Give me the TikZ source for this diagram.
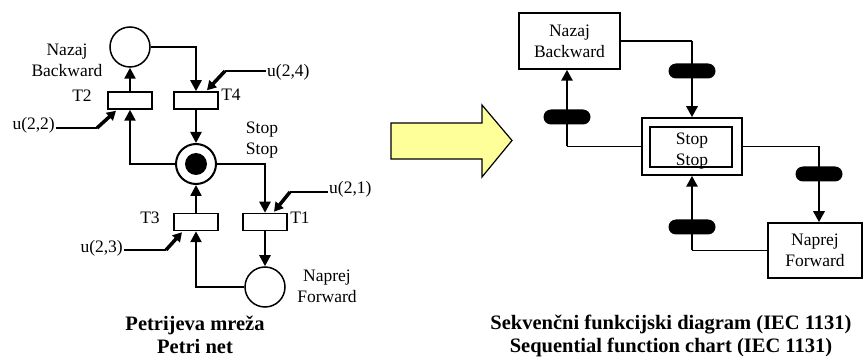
\documentclass[tikz,border=0pt]{standalone}
\usepackage{fontspec}
\setmainfont{Liberation Serif}
\usetikzlibrary{arrows.meta}
\definecolor{arrowyellow}{RGB}{255,255,153}
\begin{document}
\begin{tikzpicture}[x=1pt,y=-1pt,
  lbl/.style={font=\fontsize{17.5}{21}\selectfont, inner sep=1pt, align=center},
  captxt/.style={font=\bfseries\fontsize{20.5}{23.5}\selectfont, align=center, inner sep=0pt},
  place/.style={circle, draw, line width=1.5pt, minimum size=40pt, inner sep=0pt},
  trans/.style={rectangle, draw, line width=1.5pt, minimum width=44pt, minimum height=17pt, inner sep=0pt},
  pconn/.style={line width=2.4pt, -{Triangle[length=11pt,width=11pt]}},
  inthin/.style={line width=1.3pt},
  inarrow/.style={line width=3.5pt, -{Triangle[length=9pt,width=10pt]}},
  stepbox/.style={rectangle, draw, line width=1.5pt, inner sep=0pt, align=center, font=\fontsize{17.5}{21}\selectfont},
  tbar/.style={rectangle, fill=black, rounded corners=7.5pt, minimum width=47pt, minimum height=15pt, inner sep=0pt},
  sthin/.style={line width=1.5pt},
  sarrow/.style={line width=2.8pt, -{Triangle[length=11pt,width=11pt]}},
]
\useasboundingbox (0,0) rectangle (863,358);

% ---------------- Petri net ----------------
\node[place] (pN) at (130,47) {};
\node[place, line width=2pt] (pS) at (196,164) {};
\node[circle, fill=black, minimum size=22pt, inner sep=0pt] (tok) at (pS) {};
\node[place] (pF) at (265,287) {};

\node[trans] (T2) at (130,100.5) {};
\node[trans] (T4) at (196,100.5) {};
\node[trans] (T3) at (196,222) {};
\node[trans] (T1) at (265,222) {};

\node[lbl] (lN) at (67,60.5) {Nazaj\\Backward};
\node[lbl] (lS) at (262,140) {Stop\\Stop};
\node[lbl] (lF) at (327,286.5) {Naprej\\Forward};
\node[lbl] (lT2) at (82,96) {T2};
\node[lbl] (lT4) at (231,95) {T4};
\node[lbl] (lT3) at (150,218) {T3};
\node[lbl] (lT1) at (300,218) {T1};

\draw[pconn] (pN.east) -| (T4.north);
\draw[pconn] (T4.south) -- (pS.north);
\draw[pconn] (pS.west) -| (T2.south);
\draw[pconn] (T2.north) -- (pN.south);
\draw[pconn] (pS.east) -| (T1.north);
\draw[pconn] (T1.south) -- (pF.north);
\draw[pconn] (pF.west) -| (T3.south);
\draw[pconn] (T3.north) -- (pS.south);

% inputs
\node[lbl, anchor=west] (u24) at (266,72) {u(2,4)};
\node[lbl, anchor=east] (u22) at (56,125) {u(2,2)};
\node[lbl, anchor=west] (u21) at (328,189) {u(2,1)};
\node[lbl, anchor=east] (u23) at (124,248) {u(2,3)};

\draw[inthin] ([yshift=1pt]u24.west) -- ++(-41,0) coordinate (k4);
\draw[inarrow] (k4) -- ([xshift=11pt,yshift=1pt]T4.north);
\draw[inthin] ([yshift=-3pt]u22.east) -- ++(41,0) coordinate (k2);
\draw[inarrow] (k2) -- ([xshift=-14pt,yshift=-1pt]T2.south);
\draw[inthin] ([yshift=-3pt]u21.west) -- ++(-38,0) coordinate (k1);
\draw[inarrow] (k1) -- ([xshift=9pt,yshift=1pt]T1.north);
\draw[inthin] ([yshift=-2pt]u23.east) -- ++(42,0) coordinate (k3);
\draw[inarrow] (k3) -- ([xshift=-14pt,yshift=-1pt]T3.south);

\node[captxt] (capL) at (195,335) {Petrijeva mreža\\Petri net};

% ---------------- big arrow ----------------
\filldraw[fill=arrowyellow, draw=black, line width=1.2pt, line join=miter]
  (391,123) -- (482,123) -- (482,105) -- (512,140.5) -- (482,177) -- (482,159) -- (391,159) -- cycle;

% ---------------- SFC ----------------
\node[stepbox, minimum width=101pt, minimum height=56pt] (nS) at (569.5,41) {Nazaj\\Backward};
\node[stepbox, minimum width=100pt, minimum height=57pt] (sS) at (692,146.5) {};
\node[stepbox, minimum width=82pt, minimum height=40pt] (sI) at (691,147) {};
\node[lbl] (sT) at (692,151) {Stop\\Stop};
\node[stepbox, minimum width=94pt, minimum height=55pt] (fS) at (815,250.5) {Naprej\\Forward};

\node[tbar] (b1) at (692,71) {};
\node[tbar] (b2) at (567,117) {};
\node[tbar] (b3) at (819,174) {};
\node[tbar] (b4) at (692,227) {};

\draw[sthin] (nS.east) -- (nS.east -| b1);
\draw[sarrow] (nS.east -| b1) -- (b1 |- sS.north);
\draw[sthin] (sS.west) -- (sS.west -| b2);
\draw[sarrow] (sS.west -| b2) -- (b2 |- nS.south);
\draw[sthin] (sS.east) -- (sS.east -| b3);
\draw[sarrow] (sS.east -| b3) -- (b3 |- fS.north);
\draw[sthin] (fS.west) -- (fS.west -| b4);
\draw[sarrow] (fS.west -| b4) -- (b4 |- sS.south);

\node[captxt] (capR) at (671,336) {Sekvenčni funkcijski diagram (IEC 1131)\\Sequential function chart (IEC 1131)};
\end{tikzpicture}
\end{document}
